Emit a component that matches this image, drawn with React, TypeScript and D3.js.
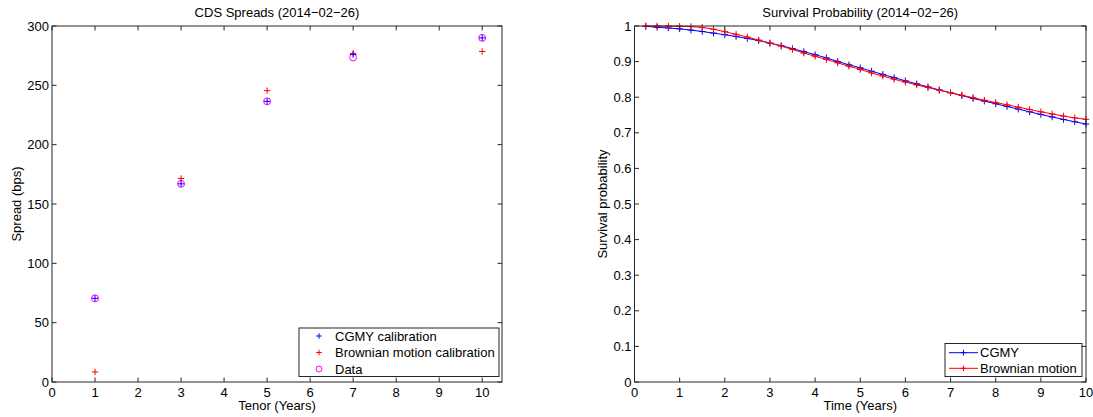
import React from "react";
import * as d3 from "d3";

// CDS spreads by tenor (bps)
const tenors = [1, 3, 5, 7, 10];
const spreadData = [70.5, 167, 236.5, 273.5, 290];
const spreadCGMY = [70.5, 167, 236.5, 276, 290];
const spreadBrownian = [8.5, 171.5, 245.5, 277, 278.5];

// Survival probability curves, quarterly grid
const times = [
  0.25, 0.5, 0.75, 1, 1.25, 1.5, 1.75, 2, 2.25, 2.5, 2.75, 3, 3.25, 3.5, 3.75, 4,
  4.25, 4.5, 4.75, 5, 5.25, 5.5, 5.75, 6, 6.25, 6.5, 6.75, 7, 7.25, 7.5, 7.75, 8,
  8.25, 8.5, 8.75, 9, 9.25, 9.5, 9.75, 10,
];
const survivalCGMY = [
  0.999, 0.9965, 0.9945, 0.992, 0.9885, 0.9845, 0.98, 0.9755, 0.9705, 0.965,
  0.959, 0.952, 0.9445, 0.9365, 0.928, 0.9195, 0.9105, 0.9005, 0.891, 0.8825,
  0.873, 0.864, 0.855, 0.846, 0.8375, 0.829, 0.8205, 0.8125, 0.8045, 0.7965,
  0.789, 0.7815, 0.774, 0.7665, 0.759, 0.7515, 0.7445, 0.7375, 0.731, 0.7245,
];
const survivalBrownian = [
  1.0, 1.0, 0.9998, 0.9993, 0.9985, 0.996, 0.991, 0.984, 0.9765, 0.969, 0.9605,
  0.952, 0.9435, 0.934, 0.924, 0.915, 0.906, 0.8965, 0.887, 0.878, 0.868,
  0.8595, 0.8505, 0.8425, 0.8345, 0.827, 0.8195, 0.8125, 0.8055, 0.7985, 0.7915,
  0.785, 0.7785, 0.772, 0.7655, 0.759, 0.753, 0.747, 0.742, 0.7378,
];

const leftXTicks = [0, 1, 2, 3, 4, 5, 6, 7, 8, 9, 10];
const leftYTicks = [0, 50, 100, 150, 200, 250, 300];
const rightXTicks = [0, 1, 2, 3, 4, 5, 6, 7, 8, 9, 10];
const rightYTicks = [0, 0.1, 0.2, 0.3, 0.4, 0.5, 0.6, 0.7, 0.8, 0.9, 1];

const FONT = "'Liberation Sans', Arial, Helvetica, sans-serif";
const FS = 13;
const BLUE = "#0000ff";
const RED = "#ff0000";
const MAGENTA = "#ff00ff";
const AXIS = "#262626";

const Plus = ({ x, y, color, s = 3.2 }: { x: number; y: number; color: string; s?: number }) => (
  <g stroke={color} strokeWidth={1}>
    <line x1={x - s} x2={x + s} y1={y} y2={y} />
    <line x1={x} x2={x} y1={y - s} y2={y + s} />
  </g>
);

type AxesProps = {
  x: d3.ScaleLinear<number, number>;
  y: d3.ScaleLinear<number, number>;
  xTicks: number[];
  yTicks: number[];
  title: string;
  xLabel: string;
  yLabel: string;
  yLabelX: number;
  children?: React.ReactNode;
};

const Axes = ({ x, y, xTicks, yTicks, title, xLabel, yLabel, yLabelX, children }: AxesProps) => {
  const [x0, x1] = x.range();
  const [y0, y1] = y.range();
  const tl = 4.5;
  const fmtY = (v: number) => (Number.isInteger(v) ? String(v) : String(+v.toFixed(1)));
  return (
    <g fontFamily={FONT} fontSize={FS} fill="#000">
      <rect x={x0} y={y1} width={x1 - x0} height={y0 - y1} fill="#fff" />
      {children}
      <g stroke={AXIS} strokeWidth={1}>
        {xTicks.map((t) => (
          <g key={"xt" + t}>
            <line x1={x(t)} x2={x(t)} y1={y0} y2={y0 - tl} />
            <line x1={x(t)} x2={x(t)} y1={y1} y2={y1 + tl} />
          </g>
        ))}
        {yTicks.map((t) => (
          <g key={"yt" + t}>
            <line x1={x0} x2={x0 + tl} y1={y(t)} y2={y(t)} />
            <line x1={x1} x2={x1 - tl} y1={y(t)} y2={y(t)} />
          </g>
        ))}
        <rect x={x0} y={y1} width={x1 - x0} height={y0 - y1} fill="none" />
      </g>
      {xTicks.map((t) => (
        <text key={"xl" + t} x={x(t)} y={y0 + 14.5} textAnchor="middle">
          {t}
        </text>
      ))}
      {yTicks.map((t) => (
        <text key={"yl" + t} x={x0 - 3} y={y(t) + 4.5} textAnchor="end">
          {fmtY(t)}
        </text>
      ))}
      <text x={(x0 + x1) / 2} y={y1 - 9} textAnchor="middle">
        {title}
      </text>
      <text x={(x0 + x1) / 2} y={y0 + 27.5} textAnchor="middle">
        {xLabel}
      </text>
      <text
        transform={`translate(${yLabelX},${(y0 + y1) / 2}) rotate(-90)`}
        textAnchor="middle"
      >
        {yLabel}
      </text>
    </g>
  );
};

export default function App() {
  const W = 1093;
  const H = 417;

  // Left panel: spreads vs tenor
  const xL = d3.scaleLinear().domain([0, 10.46]).range([52, 502]);
  const yL = d3.scaleLinear().domain([0, 300]).range([382, 26]);

  // Right panel: survival probability vs time
  const xR = d3.scaleLinear().domain([0, 10]).range([634.5, 1086]);
  const yR = d3.scaleLinear().domain([0, 1]).range([382, 26]);

  const curve = d3
    .line<number>()
    .x((_, i) => xR(times[i]))
    .y((d) => yR(d));

  return (
    <svg
      width={W}
      height={H}
      style={{ position: "absolute", left: 0, top: 0, background: "#fff" }}
    >
      <rect width={W} height={H} fill="#fff" />
      <Axes
        x={xL}
        y={yL}
        xTicks={leftXTicks}
        yTicks={leftYTicks}
        title="CDS Spreads (2014−02−26)"
        xLabel="Tenor (Years)"
        yLabel="Spread (bps)"
        yLabelX={21}
      >
        {tenors.map((t, i) => (
          <circle key={"d" + t} cx={xL(t)} cy={yL(spreadData[i])} r={3.5} fill="none" stroke={MAGENTA} strokeWidth={1} />
        ))}
        {tenors.map((t, i) => (
          <Plus key={"b" + t} x={xL(t)} y={yL(spreadBrownian[i])} color={RED} />
        ))}
        {tenors.map((t, i) => (
          <Plus key={"c" + t} x={xL(t)} y={yL(spreadCGMY[i])} color={BLUE} />
        ))}
        {/* legend */}
        <g fontFamily={FONT} fontSize={FS}>
          <rect x={299} y={328} width={200} height={48.5} fill="#fff" stroke={AXIS} strokeWidth={1} />
          <Plus x={319} y={336} color={BLUE} s={2.8} />
          <text x={335} y={340.5}>CGMY calibration</text>
          <Plus x={319} y={352.5} color={RED} s={2.8} />
          <text x={335} y={357}>Brownian motion calibration</text>
          <circle cx={319} cy={369} r={3} fill="none" stroke={MAGENTA} strokeWidth={1} />
          <text x={335} y={373.5}>Data</text>
        </g>
      </Axes>

      <Axes
        x={xR}
        y={yR}
        xTicks={rightXTicks}
        yTicks={rightYTicks}
        title="Survival Probability (2014−02−26)"
        xLabel="Time (Years)"
        yLabel="Survival probability"
        yLabelX={607}
      >
        <path d={curve(survivalCGMY) ?? ""} fill="none" stroke={BLUE} strokeWidth={1} />
        {survivalCGMY.map((v, i) => (
          <Plus key={"sc" + i} x={xR(times[i])} y={yR(v)} color={BLUE} s={3.3} />
        ))}
        <path d={curve(survivalBrownian) ?? ""} fill="none" stroke={RED} strokeWidth={1} />
        {survivalBrownian.map((v, i) => (
          <Plus key={"sb" + i} x={xR(times[i])} y={yR(v)} color={RED} s={3.3} />
        ))}
        {/* legend */}
        <g fontFamily={FONT} fontSize={FS}>
          <rect x={945} y={343.5} width={137} height={33} fill="#fff" stroke={AXIS} strokeWidth={1} />
          <line x1={949} x2={978} y1={352.7} y2={352.7} stroke={BLUE} strokeWidth={1} />
          <Plus x={963.5} y={352.7} color={BLUE} s={2.8} />
          <text x={980} y={357.2}>CGMY</text>
          <line x1={949} x2={978} y1={368.3} y2={368.3} stroke={RED} strokeWidth={1} />
          <Plus x={963.5} y={368.3} color={RED} s={2.8} />
          <text x={980} y={372.8}>Brownian motion</text>
        </g>
      </Axes>
    </svg>
  );
}
